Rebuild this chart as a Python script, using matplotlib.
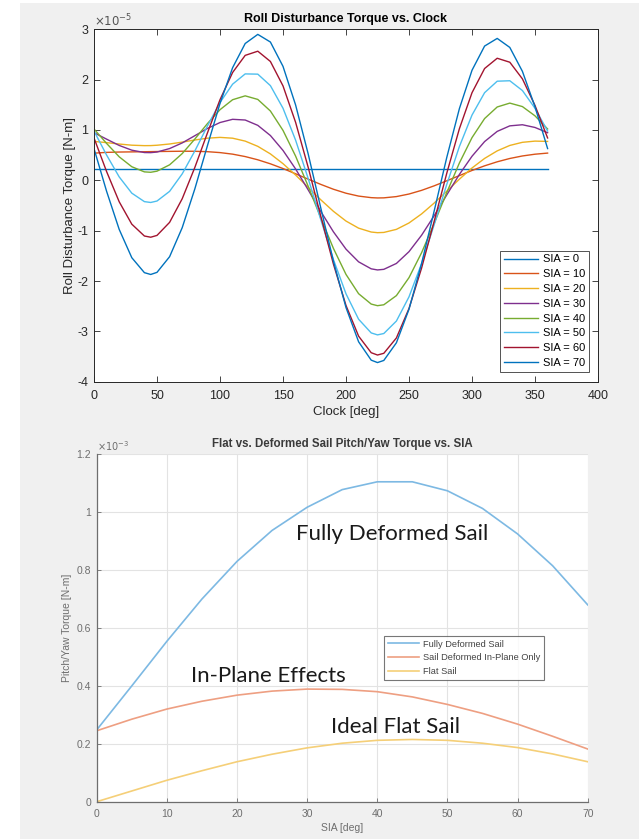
import matplotlib
matplotlib.use("Agg")
import matplotlib.pyplot as plt
from matplotlib.patches import Rectangle

plt.rcParams["axes.unicode_minus"] = False

# ---------------- data: top chart (values in units of 1e-5 N-m) ----------------
clock_deg = [0, 10, 20, 30, 40, 45, 50, 60, 70, 80, 90, 100, 110, 120, 130, 140, 150,
             160, 170, 180, 190, 200, 210, 220, 225, 230, 240, 250, 260, 270, 280, 290,
             300, 310, 320, 330, 340, 350, 360]
sia_labels = ["SIA = 0", "SIA = 10", "SIA = 20", "SIA = 30",
              "SIA = 40", "SIA = 50", "SIA = 60", "SIA = 70"]
sia0 = [0.22, 0.22, 0.22, 0.22, 0.22, 0.22, 0.22, 0.22, 0.22, 0.22, 0.22, 0.22, 0.22,
        0.22, 0.22, 0.22, 0.22, 0.22, 0.22, 0.22, 0.22, 0.22, 0.22, 0.22, 0.22, 0.22,
        0.22, 0.22, 0.22, 0.22, 0.22, 0.22, 0.22, 0.22, 0.22, 0.22, 0.22, 0.22, 0.22]
sia10 = [0.54, 0.555, 0.562, 0.565, 0.568, 0.57, 0.572, 0.575, 0.578, 0.577, 0.569, 0.551,
         0.520, 0.472, 0.408, 0.328, 0.234, 0.130, 0.023, -0.081, -0.177, -0.256, -0.313,
         -0.344, -0.35, -0.348, -0.323, -0.272, -0.199, -0.109, -0.009, 0.094, 0.196,
         0.288, 0.368, 0.434, 0.484, 0.519, 0.541]
sia20 = [0.773, 0.749, 0.721, 0.698, 0.689, 0.69, 0.697, 0.722, 0.759, 0.801, 0.837, 0.853,
         0.837, 0.779, 0.675, 0.525, 0.331, 0.105, -0.141, -0.387, -0.615, -0.809, -0.950,
         -1.027, -1.04, -1.035, -0.974, -0.847, -0.667, -0.451, -0.215, 0.023, 0.245,
         0.435, 0.585, 0.693, 0.755, 0.779, 0.773]
sia30 = [0.946, 0.818, 0.693, 0.599, 0.552, 0.55, 0.562, 0.631, 0.743, 0.886, 1.030, 1.148,
         1.212, 1.198, 1.092, 0.890, 0.594, 0.226, -0.190, -0.618, -1.022, -1.367, -1.619,
         -1.758, -1.78, -1.768, -1.651, -1.417, -1.090, -0.702, -0.288, 0.118, 0.478,
         0.770, 0.972, 1.082, 1.104, 1.050, 0.946]
sia40 = [1.020, 0.733, 0.467, 0.270, 0.168, 0.16, 0.182, 0.308, 0.531, 0.819, 1.126, 1.403,
         1.601, 1.678, 1.607, 1.377, 0.992, 0.481, -0.119, -0.748, -1.351, -1.869, -2.252,
         -2.458, -2.49, -2.472, -2.290, -1.933, -1.437, -0.854, -0.241, 0.345, 0.848,
         1.227, 1.457, 1.534, 1.465, 1.281, 1.020]
sia50 = [0.980, 0.502, 0.068, -0.255, -0.423, -0.44, -0.411, -0.219, 0.128, 0.582, 1.078,
         1.545, 1.910, 2.114, 2.109, 1.881, 1.432, 0.798, 0.035, -0.782, -1.572, -2.254,
         -2.759, -3.031, -3.07, -3.043, -2.795, -2.314, -1.652, -0.880, -0.079, 0.672,
         1.296, 1.741, 1.969, 1.978, 1.784, 1.431, 0.980]
sia60 = [0.842, 0.174, -0.426, -0.871, -1.106, -1.13, -1.094, -0.835, -0.366, 0.254, 0.940,
         1.601, 2.142, 2.482, 2.565, 2.361, 1.876, 1.152, 0.257, -0.714, -1.662, -2.486,
         -3.095, -3.424, -3.47, -3.436, -3.131, -2.546, -1.742, -0.812, 0.143, 1.026,
         1.740, 2.221, 2.425, 2.346, 2.016, 1.487, 0.842]
sia70 = [0.631, -0.218, -0.975, -1.537, -1.834, -1.87, -1.828, -1.517, -0.941, -0.172,
         0.687, 1.527, 2.237, 2.718, 2.899, 2.747, 2.264, 1.497, 0.523, -0.551, -1.606,
         -2.527, -3.207, -3.572, -3.62, -3.578, -3.227, -2.561, -1.652, -0.607, 0.457,
         1.425, 2.186, 2.667, 2.819, 2.640, 2.165, 1.461, 0.631]
top_series = [sia0, sia10, sia20, sia30, sia40, sia50, sia60, sia70]
top_colors = ["#0072BD", "#D95319", "#EDB120", "#7E2F8E",
              "#77AC30", "#4DBEEE", "#A2142F", "#0072BD"]

# ---------------- data: bottom chart (values in units of 1e-3 N-m) ----------------
sia_deg = [0, 5, 10, 15, 20, 25, 30, 35, 40, 45, 50, 55, 60, 65, 70]
fully_deformed = [0.248, 0.400, 0.554, 0.700, 0.830, 0.937, 1.017, 1.078, 1.105, 1.105,
                  1.074, 1.013, 0.925, 0.815, 0.680]
inplane_only = [0.245, 0.285, 0.320, 0.347, 0.368, 0.382, 0.389, 0.388, 0.380, 0.362,
                0.336, 0.305, 0.268, 0.226, 0.182]
flat_sail = [0.0, 0.037, 0.074, 0.107, 0.138, 0.164, 0.186, 0.202, 0.212, 0.215, 0.212,
             0.202, 0.187, 0.165, 0.138]
bottom_labels = ["Fully Deformed Sail", "Sail Deformed In-Plane Only", "Flat Sail"]
bottom_colors = ["#7DB9E3", "#EE9F82", "#F5CF78"]

FONT = "Liberation Sans"
W, H = 639, 839
fig = plt.figure(figsize=(W / 100, H / 100), dpi=100, facecolor="white")
fig.patches.append(Rectangle((20 / W, 0), 1 - 20 / W, 1 - 3 / H, transform=fig.transFigure,
                             facecolor="#f0f0f0", edgecolor="none", zorder=-10))

# ================= top chart =================
ax1 = fig.add_axes([94 / W, 1 - 381.7 / H, 504 / W, 352.4 / H])
for vals, col, lab in zip(top_series, top_colors, sia_labels):
    ax1.plot(clock_deg, vals, color=col, lw=1.0, label=lab)
ax1.set_xlim(0, 400)
ax1.set_ylim(-4, 3)
ax1.set_xticks(range(0, 401, 50))
ax1.set_yticks(range(-4, 4))
ax1.tick_params(direction="in", length=4, width=0.6, top=True, right=True,
                labelsize=9, colors="#262626")
ax1.tick_params(axis="x", pad=6)
ax1.tick_params(axis="y", pad=4)
for lbl in ax1.get_xticklabels() + ax1.get_yticklabels():
    lbl.set_family(FONT)
for sp in ax1.spines.values():
    sp.set_color("#262626")
    sp.set_linewidth(0.7)
ax1.set_title("Roll Disturbance Torque vs. Clock", fontsize=9, fontweight="bold",
              family=FONT, pad=5)
ax1.set_xlabel("Clock [deg]", fontsize=9.5, family=FONT, color="#262626", labelpad=3)
ax1.set_ylabel("Roll Disturbance Torque [N-m]", fontsize=9.5, family=FONT,
               color="#262626", labelpad=1)
ax1.text(0, 1.0, r"$\times10^{-5}$", transform=ax1.transAxes, fontsize=8.5,
         family=FONT, color="#555555", ha="left", va="bottom")
leg1 = ax1.legend(loc="lower right", bbox_to_anchor=(0.982, 0.028), borderaxespad=0,
                  prop={"family": FONT, "size": 8}, handlelength=3.1, handletextpad=0.4,
                  labelspacing=0.43, borderpad=0.35, frameon=True, fancybox=False)
leg1.get_frame().set_edgecolor("#262626")
leg1.get_frame().set_linewidth(0.7)

# ================= bottom chart =================
ax2 = fig.add_axes([96.7 / W, 1 - 801.7 / H, 491 / W, 347.4 / H])
for vals, col, lab in zip([fully_deformed, inplane_only, flat_sail], bottom_colors,
                          bottom_labels):
    ax2.plot(sia_deg, vals, color=col, lw=1.2, label=lab)
ax2.set_xlim(0, 70)
ax2.set_ylim(0, 1.2)
ax2.set_xticks(range(0, 71, 10))
ax2.set_yticks([0, 0.2, 0.4, 0.6, 0.8, 1.0, 1.2])
ax2.set_yticklabels(["0", "0.2", "0.4", "0.6", "0.8", "1", "1.2"])
ax2.grid(True, color="#e3e3e3", lw=0.8)
ax2.set_axisbelow(True)
ax2.tick_params(direction="in", length=3, width=0.6, labelsize=7.5, colors="#6e6e6e")
ax2.tick_params(axis="x", pad=5)
ax2.tick_params(axis="y", pad=4)
for lbl in ax2.get_xticklabels() + ax2.get_yticklabels():
    lbl.set_family(FONT)
ax2.spines["top"].set_visible(False)
ax2.spines["right"].set_visible(False)
for s in ("left", "bottom"):
    ax2.spines[s].set_color("#6e6e6e")
    ax2.spines[s].set_linewidth(0.9)
ax2.set_title("Flat vs. Deformed Sail Pitch/Yaw Torque vs. SIA", fontsize=8.3,
              fontweight="bold", family=FONT, color="#3a3a3a", pad=5)
ax2.set_xlabel("SIA [deg]", fontsize=7.5, family=FONT, color="#6e6e6e", labelpad=3)
ax2.set_ylabel("Pitch/Yaw Torque [N-m]", fontsize=7.5, family=FONT, color="#6e6e6e",
               labelpad=3)
ax2.text(0, 1.003, r"$\times10^{-3}$", transform=ax2.transAxes, fontsize=7,
         family=FONT, color="#6e6e6e", ha="left", va="bottom")
leg2 = ax2.legend(loc="upper left", bbox_to_anchor=(0.585, 0.477), borderaxespad=0,
                  prop={"family": FONT, "size": 6.7}, handlelength=3.4, handletextpad=0.4,
                  labelspacing=0.5, borderpad=0.4, frameon=True, fancybox=False)
leg2.get_frame().set_edgecolor("#555555")
leg2.get_frame().set_linewidth(0.8)
for t in leg2.get_texts():
    t.set_color("#444444")

ANN = "Lato"
ax2.text(28.4, 0.923, "Fully Deformed Sail", fontsize=16, family=ANN, color="#1a1a1a",
         ha="left", va="center")
ax2.text(13.4, 0.435, "In-Plane Effects", fontsize=16, family=ANN, color="#1a1a1a",
         ha="left", va="center")
ax2.text(33.4, 0.257, "Ideal Flat Sail", fontsize=16, family=ANN, color="#1a1a1a",
         ha="left", va="center")

fig.savefig("out.png", dpi=100, facecolor=fig.get_facecolor())
